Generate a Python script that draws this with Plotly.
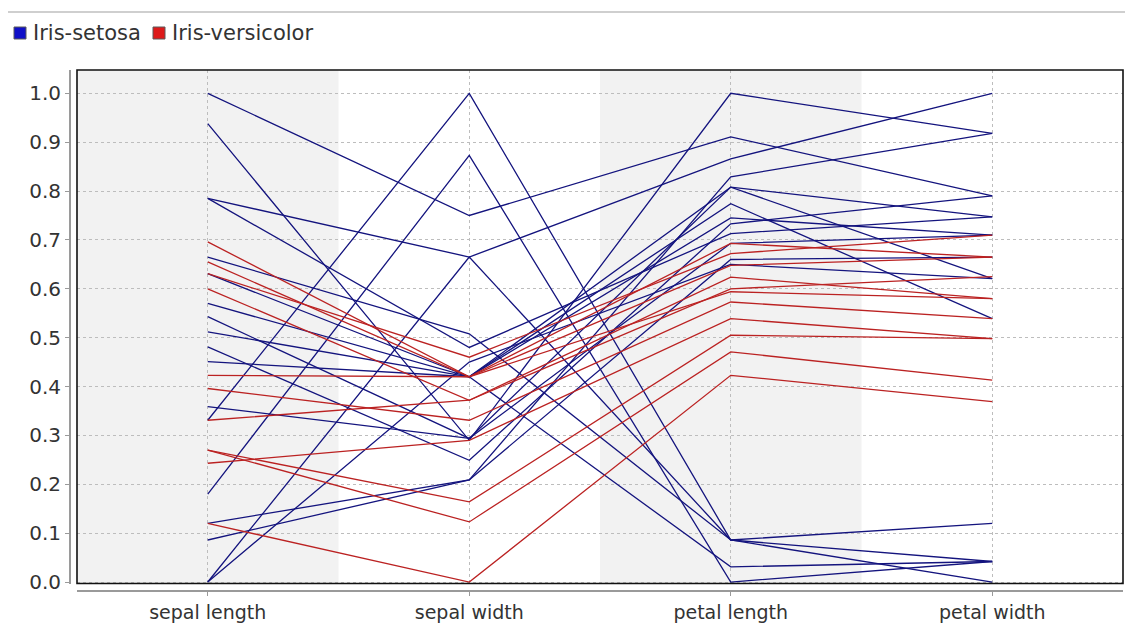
import plotly.graph_objects as go

dims = ["sepal length", "sepal width", "petal length", "petal width"]
y_ticks = [0.0, 0.1, 0.2, 0.3, 0.4, 0.5, 0.6, 0.7, 0.8, 0.9, 1.0]
y_ticktext = ["0.0", "0.1", "0.2", "0.3", "0.4", "0.5", "0.6", "0.7", "0.8", "0.9", "1.0"]

# Iris-setosa (blue) – one entry per line
setosa_sepal_length = [1.0, 0.938, 0.785, 0.785, 0.331, 0.18, 0.0, 0.0, 0.665, 0.631, 0.57, 0.543, 0.512, 0.481, 0.451, 0.359, 0.12, 0.086]
setosa_sepal_width = [0.75, 0.29, 0.665, 0.48, 1.0, 0.873, 0.665, 0.45, 0.508, 0.42, 0.42, 0.294, 0.42, 0.249, 0.42, 0.294, 0.209, 0.209]
setosa_petal_length = [0.911, 1.0, 0.866, 0.713, 0.086, 0.0, 0.086, 0.65, 0.086, 0.031, 0.808, 0.808, 0.774, 0.733, 0.745, 0.693, 0.829, 0.66]
setosa_petal_width = [0.79, 0.918, 1.0, 0.747, 0.12, 0.042, 0.042, 0.621, 0.0, 0.042, 0.621, 0.747, 0.539, 0.79, 0.71, 0.71, 0.918, 0.665]

# Iris-versicolor (red)
versicolor_sepal_length = [0.696, 0.655, 0.631, 0.60, 0.423, 0.396, 0.243, 0.331, 0.27, 0.27, 0.12]
versicolor_sepal_width = [0.42, 0.42, 0.46, 0.372, 0.42, 0.331, 0.29, 0.372, 0.164, 0.123, 0.0]
versicolor_petal_length = [0.693, 0.648, 0.672, 0.624, 0.594, 0.573, 0.539, 0.60, 0.505, 0.471, 0.423]
versicolor_petal_width = [0.665, 0.665, 0.71, 0.58, 0.58, 0.539, 0.498, 0.625, 0.498, 0.413, 0.369]

BLUE_LINE = "#14147e"
RED_LINE = "#bb2222"
BLUE_KEY = "#1010c8"
RED_KEY = "#dd1a1a"

OFF = 8  # default page body margin
W, H = 1133 - OFF, 637 - OFF
# target page pixel positions
Y_AXIS_X, X_AXIS_Y = 70, 591
BOX_L, BOX_R, BOX_T, BOX_B = 77, 1123, 70, 583.5
ML = Y_AXIS_X - OFF
MT = 65 - OFF
MR = (1133 - OFF) - (BOX_R - OFF)
MB = H - (X_AXIS_Y - OFF)
PW = W - ML - MR
PH = H - MT - MB


def px(x):
    return (x - OFF - ML) / PW


def py(y):
    return (H - MB - (y - OFF)) / PH


fig = go.Figure()

groups = [
    (setosa_sepal_length, setosa_sepal_width, setosa_petal_length, setosa_petal_width, BLUE_LINE),
    (versicolor_sepal_length, versicolor_sepal_width, versicolor_petal_length, versicolor_petal_width, RED_LINE),
]
for sl, sw, pl, pw, col in groups:
    for row in zip(sl, sw, pl, pw):
        fig.add_trace(go.Scatter(
            x=dims, y=list(row), mode="lines",
            line=dict(color=col, width=1.3),
            showlegend=False, hoverinfo="skip",
        ))

shapes = []
for i in (0, 2):
    shapes.append(dict(type="rect", xref="x", yref="y domain",
                       x0=i - 0.5, x1=i + 0.5, y0=0, y1=1,
                       fillcolor="#f2f2f2", line=dict(width=0), layer="below"))
shapes.append(dict(type="rect", xref="x domain", yref="y domain",
                   x0=0, x1=1, y0=0, y1=1,
                   line=dict(color="#111111", width=1.6), layer="above"))
shapes.append(dict(type="line", xref="paper", yref="paper",
                   x0=px(7), x1=px(1133), y0=py(12), y1=py(12),
                   line=dict(color="#cfcfcf", width=2)))
shapes.append(dict(type="rect", xref="paper", yref="paper",
                   x0=px(14), x1=px(26), y0=py(39), y1=py(27),
                   fillcolor=BLUE_KEY, line=dict(color="#5a5a5a", width=1)))
shapes.append(dict(type="rect", xref="paper", yref="paper",
                   x0=px(153), x1=px(165), y0=py(39), y1=py(27),
                   fillcolor=RED_KEY, line=dict(color="#5a5a5a", width=1)))

annotations = [
    dict(xref="paper", yref="paper", x=px(31), y=py(33), xanchor="left", yanchor="middle",
         text="Iris-setosa", showarrow=False, font=dict(size=21, color="#333333")),
    dict(xref="paper", yref="paper", x=px(170), y=py(33), xanchor="left", yanchor="middle",
         text="Iris-versicolor", showarrow=False, font=dict(size=21, color="#333333")),
]

fig.update_layout(
    width=W, height=H,
    margin=dict(l=ML, r=MR, t=MT, b=MB),
    paper_bgcolor="white", plot_bgcolor="white",
    font=dict(family="DejaVu Sans", color="#333333"),
    shapes=shapes, annotations=annotations,
    showlegend=False,
    xaxis=dict(
        type="category", categoryorder="array", categoryarray=dims,
        range=[-0.5, 3.5], domain=[px(BOX_L), 1],
        anchor="free", position=0,
        showline=True, linecolor="#9a9a9a", linewidth=2,
        ticks="outside", ticklen=4, tickcolor="#9a9a9a",
        showgrid=True, gridcolor="#bdbdbd", gridwidth=1, griddash="3px,3px",
        tickfont=dict(size=19, color="#333333"),
        zeroline=False, fixedrange=True,
    ),
    yaxis=dict(
        range=[-0.003, 1.0477], domain=[py(BOX_B), py(BOX_T)],
        anchor="free", position=0,
        tickvals=y_ticks, ticktext=y_ticktext,
        showline=True, linecolor="#9a9a9a", linewidth=2,
        ticks="outside", ticklen=4, tickcolor="#9a9a9a",
        showgrid=True, gridcolor="#bdbdbd", gridwidth=1, griddash="3px,3px",
        tickfont=dict(size=20, color="#333333"),
        zeroline=False, fixedrange=True,
    ),
)

fig.write_html("out.html")
